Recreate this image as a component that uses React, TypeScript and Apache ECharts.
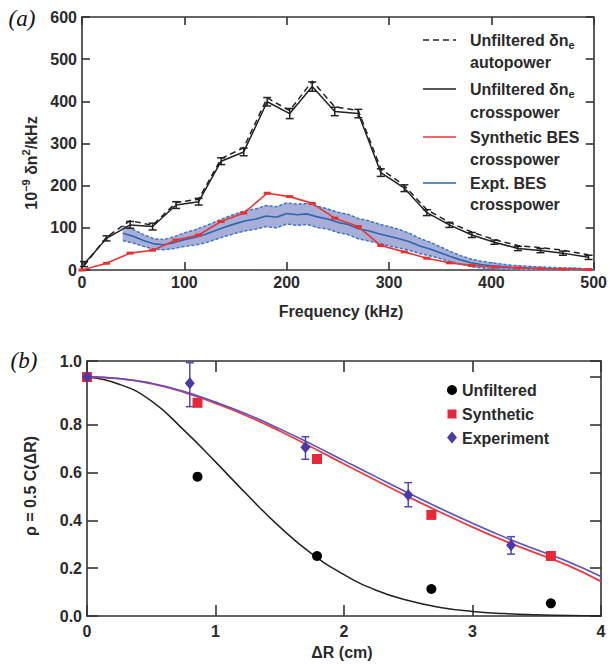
import React, { useEffect, useRef } from "react";
import * as echarts from "echarts";

// ---------- Panel (a) data ----------
const freq = [2, 24, 47, 69, 92, 114, 136, 158, 181, 203, 225, 247, 270, 292, 315, 337, 359, 381, 403, 426, 448, 470, 495];
const autopower = [10, 78, 117, 106, 160, 168, 264, 290, 408, 378, 448, 387, 378, 240, 200, 143, 113, 90, 72, 58, 53, 47, 36];
const crosspower = [14, 75, 107, 103, 154, 162, 258, 280, 399, 371, 435, 376, 371, 231, 194, 136, 107, 83, 66, 51, 46, 40, 30];
const crossErr = [6, 6, 8, 8, 8, 8, 8, 9, 10, 12, 11, 10, 10, 9, 8, 7, 6, 6, 5, 5, 5, 5, 5];
const synthFreq = [0, 24, 47, 69, 92, 114, 136, 158, 181, 203, 225, 247, 270, 292, 315, 337, 359, 381, 403, 426, 448, 470, 495];
const synthetic = [0, 16, 40, 47, 71, 83, 115, 135, 182, 174, 158, 123, 103, 58, 43, 28, 17, 11, 7, 5, 3, 2, 1];
const exptFreq = [40, 50, 60, 70, 80, 90, 100, 110, 120, 130, 140, 150, 160, 170, 180, 190, 200, 210, 220, 230, 240, 250, 260, 270, 280, 290, 300, 310, 320, 330, 340, 350, 360, 370, 380, 390, 400, 410, 420, 430, 440, 450, 460, 470, 480, 490, 500];
const exptMean = [87, 80, 70, 62, 60, 65, 72, 77, 84, 93, 102, 110, 117, 121, 128, 125, 134, 131, 133, 126, 121, 113, 108, 98, 93, 86, 80, 74, 67, 57, 50, 41, 32, 24, 17, 13, 10, 8, 6, 5, 4, 3, 3, 2, 2, 1, 1];
const exptHalf = [17, 16, 14, 12, 12, 14, 16, 18, 20, 21, 22, 23, 24, 24, 25, 25, 25, 25, 25, 25, 24, 24, 24, 24, 24, 23, 23, 22, 20, 18, 16, 14, 12, 10, 9, 8, 7, 6, 5, 5, 4, 4, 3, 3, 3, 2, 2];

// ---------- Panel (b) data ----------
const dR = [0, 0.25, 0.5, 0.75, 1.0, 1.25, 1.5, 1.75, 2.0, 2.25, 2.5, 2.75, 3.0, 3.25, 3.5, 3.75, 4.0];
const unfilteredFit = [1.0, 0.97, 0.9, 0.78, 0.645, 0.505, 0.373, 0.26, 0.173, 0.108, 0.065, 0.036, 0.019, 0.01, 0.005, 0.002, 0.001];
const experimentFit = [1.0, 0.994, 0.974, 0.94, 0.895, 0.843, 0.783, 0.718, 0.65, 0.582, 0.515, 0.45, 0.388, 0.33, 0.277, 0.226, 0.165];
const syntheticFit = [1.0, 0.993, 0.972, 0.937, 0.89, 0.836, 0.774, 0.706, 0.636, 0.567, 0.499, 0.434, 0.372, 0.314, 0.262, 0.21, 0.145];
const unfX = [0, 0.86, 1.79, 2.68, 3.61];
const unfY = [1.0, 0.583, 0.251, 0.113, 0.053];
const synX = [0, 0.86, 1.79, 2.68, 3.61];
const synY = [1.0, 0.892, 0.657, 0.423, 0.251];
const expX = [0, 0.8, 1.7, 2.5, 3.3];
const expY = [1.0, 0.974, 0.706, 0.506, 0.296];
const expLo = [1.0, 0.876, 0.656, 0.457, 0.259];
const expHi = [1.0, 1.06, 0.75, 0.558, 0.332];
// (b) y axis: the frame top sits a little above 1.0; the reference prints "1.0" at the frame top
const rhoTop = 1.067;
const rhoTopLabel = "1.0";

const FONT = '"Liberation Sans", Arial, Helvetica, sans-serif';
const AX = "#333333";

function makeAxis(grid: number, pos: string, min: number, max: number, interval: number, labels: boolean, tickLen: number, margin: number, formatter?: any) {
  return {
    type: "value", gridIndex: grid, position: pos, min, max, interval,
    axisLine: { show: true, onZero: false, lineStyle: { color: AX, width: 1.6 } },
    axisTick: { show: true, inside: true, length: tickLen, lineStyle: { color: AX, width: 1.6 } },
    axisLabel: { show: labels, color: "#2a2a2a", fontFamily: FONT, fontWeight: "bold", fontSize: 16, margin, formatter },
    splitLine: { show: false },
  };
}

function errorBars(color: string, halfCap: number, width: number) {
  return (params: any, api: any) => {
    const x = api.value(0);
    const lo = api.coord([x, api.value(1)]);
    const hi = api.coord([x, api.value(2)]);
    const style = { stroke: color, lineWidth: width };
    return {
      type: "group",
      children: [
        { type: "line", shape: { x1: lo[0], y1: lo[1], x2: hi[0], y2: hi[1] }, style },
        { type: "line", shape: { x1: lo[0] - halfCap, y1: lo[1], x2: lo[0] + halfCap, y2: lo[1] }, style },
        { type: "line", shape: { x1: hi[0] - halfCap, y1: hi[1], x2: hi[0] + halfCap, y2: hi[1] }, style },
      ],
    };
  };
}

function bandSegment(params: any, api: any) {
  const a = api.coord([api.value(0), api.value(1)]);
  const b = api.coord([api.value(3), api.value(4)]);
  const c = api.coord([api.value(3), api.value(5)]);
  const d = api.coord([api.value(0), api.value(2)]);
  return {
    type: "polygon",
    shape: { points: [a, b, c, d] },
    style: { fill: "#a7aed8", stroke: "#a7aed8", lineWidth: 0.6 },
  };
}

export default function App() {
  const ref = useRef<HTMLDivElement>(null);
  useEffect(() => {
    document.body.style.margin = "0";
    const chart = echarts.init(ref.current!, undefined, { renderer: "svg" });

    const pair = (xs: number[], ys: number[]) => xs.map((x, i) => [x, ys[i]]);
    const bandLower = exptFreq.map((f, i) => [f, exptMean[i] - exptHalf[i]]);
    const bandUpper = exptFreq.map((f, i) => [f, exptMean[i] + exptHalf[i]]);
    const bandSegs = exptFreq.slice(0, -1).map((f, i) => [
      f, exptMean[i] - exptHalf[i], exptMean[i] + exptHalf[i],
      exptFreq[i + 1], exptMean[i + 1] - exptHalf[i + 1], exptMean[i + 1] + exptHalf[i + 1],
    ]);

    const legendText = (x: number, y: number, text: string) => ({
      type: "text", x, y, z: 100,
      style: {
        text, fill: "#2a2a2a", font: `bold 16px ${FONT}`, align: "left", verticalAlign: "middle",
        rich: {
          n: { fontFamily: FONT, fontWeight: "bold", fontSize: 16, lineHeight: 20, fill: "#2a2a2a" },
          sub: { fontFamily: FONT, fontWeight: "bold", fontSize: 11, lineHeight: 11, verticalAlign: "bottom", fill: "#2a2a2a" },
        },
      },
    });

    // the tick at 1.0 is left blank; the frame-top (extent) tick carries "1.0" as in the reference
    const rhoFormatter = (v: number) => (Number(v) > 1.03 ? rhoTopLabel : Number(v) > 0.99 ? "" : Number(v).toFixed(1));

    const option: any = {
      animation: false,
      backgroundColor: "#ffffff",
      grid: [
        { left: 82, top: 17, width: 516, height: 253 },
        { left: 87, top: 361, width: 514, height: 255 },
      ],
      xAxis: [
        makeAxis(0, "bottom", 0, 500, 100, true, 8, 4),
        makeAxis(0, "top", 0, 500, 100, false, 8, 4),
        makeAxis(1, "bottom", 0, 4, 1, true, 11, 7),
        makeAxis(1, "top", 0, 4, 1, false, 11, 7),
      ],
      yAxis: [
        makeAxis(0, "left", 0, 600, 100, true, 8, 5),
        makeAxis(0, "right", 0, 600, 100, false, 8, 5),
        makeAxis(1, "left", 0, rhoTop, 0.2, true, 11, 5, rhoFormatter),
        makeAxis(1, "right", 0, rhoTop, 0.2, false, 11, 5),
      ],
      series: [
        // ---- panel (a)
        {
          type: "custom", name: "band", xAxisIndex: 0, yAxisIndex: 0, data: bandSegs,
          encode: { x: [0, 3], y: [1, 2, 4, 5] }, renderItem: bandSegment, silent: true, z: 1,
        },
        { type: "line", name: "bandLo", xAxisIndex: 0, yAxisIndex: 0, data: bandLower, symbol: "none", lineStyle: { color: "#3a78c8", width: 1.5, type: [3, 2] }, z: 2 },
        { type: "line", name: "bandHi", xAxisIndex: 0, yAxisIndex: 0, data: bandUpper, symbol: "none", lineStyle: { color: "#3a78c8", width: 1.5, type: [3, 2] }, z: 2 },
        { type: "line", name: "Expt. BES crosspower", xAxisIndex: 0, yAxisIndex: 0, data: pair(exptFreq, exptMean), symbol: "none", lineStyle: { color: "#2c66b0", width: 1.6 }, z: 3 },
        { type: "line", name: "Synthetic BES crosspower", xAxisIndex: 0, yAxisIndex: 0, data: pair(synthFreq, synthetic), symbol: "rect", symbolSize: [7, 3], itemStyle: { color: "#e8302f" }, lineStyle: { color: "#ee3333", width: 1.6 }, z: 4 },
        { type: "line", name: "Unfiltered autopower", xAxisIndex: 0, yAxisIndex: 0, data: pair(freq, autopower), symbol: "none", lineStyle: { color: "#222", width: 1.5, type: [6, 4] }, z: 5 },
        { type: "line", name: "Unfiltered crosspower", xAxisIndex: 0, yAxisIndex: 0, data: pair(freq, crosspower), symbol: "none", lineStyle: { color: "#222", width: 1.5 }, z: 5 },
        {
          type: "custom", name: "crossErr", xAxisIndex: 0, yAxisIndex: 0,
          data: freq.map((f, i) => [f, crosspower[i] - crossErr[i], crosspower[i] + crossErr[i]]),
          encode: { x: 0, y: [1, 2] }, renderItem: errorBars("#222", 4, 1.5), z: 6,
        },
        // ---- panel (b)
        { type: "line", name: "unfFit", xAxisIndex: 2, yAxisIndex: 2, data: pair(dR, unfilteredFit), smooth: true, symbol: "none", lineStyle: { color: "#222", width: 1.5 } },
        { type: "line", name: "synFit", xAxisIndex: 2, yAxisIndex: 2, data: pair(dR, syntheticFit), smooth: true, symbol: "none", lineStyle: { color: "#f03a3f", width: 1.8 } },
        { type: "line", name: "expFit", xAxisIndex: 2, yAxisIndex: 2, data: pair(dR, experimentFit), smooth: true, symbol: "none", lineStyle: { color: "#5a4fc4", width: 1.6 } },
        {
          type: "custom", name: "expErr", xAxisIndex: 2, yAxisIndex: 2,
          data: expX.map((x, i) => [x, expLo[i], expHi[i]]).slice(1),
          encode: { x: 0, y: [1, 2] }, renderItem: errorBars("#5548b0", 4, 1.5), z: 4,
        },
        { type: "scatter", name: "Unfiltered", xAxisIndex: 2, yAxisIndex: 2, data: pair(unfX, unfY), symbol: "circle", symbolSize: 10, itemStyle: { color: "#000", opacity: 1 }, z: 5 },
        { type: "scatter", name: "Synthetic", xAxisIndex: 2, yAxisIndex: 2, data: pair(synX, synY), symbol: "rect", symbolSize: 10, itemStyle: { color: "#e8283a", opacity: 1 }, z: 6 },
        { type: "scatter", name: "Experiment", xAxisIndex: 2, yAxisIndex: 2, data: pair(expX, expY), symbol: "diamond", symbolSize: [10, 12], itemStyle: { color: "#4a3aa8", opacity: 1 }, z: 7 },
      ],
      graphic: [
        { type: "text", x: 22, y: 18, style: { text: "(a)", font: 'italic 23px "Liberation Serif", "DejaVu Serif", serif', fill: "#111", align: "center", verticalAlign: "middle" } },
        { type: "text", x: 24, y: 360, style: { text: "(b)", font: 'italic 23px "Liberation Serif", "DejaVu Serif", serif', fill: "#111", align: "center", verticalAlign: "middle" } },
        { type: "text", x: 341, y: 311, style: { text: "Frequency (kHz)", font: `bold 16px ${FONT}`, fill: "#2a2a2a", align: "center", verticalAlign: "middle" } },
        {
          type: "text", x: 31, y: 163, rotation: Math.PI / 2,
          style: {
            text: "{n|10}{sup|−9}{n| δn}{sup|2}{n|/kHz}", align: "center", verticalAlign: "middle",
            rich: {
              n: { fontFamily: FONT, fontWeight: "bold", fontSize: 16, lineHeight: 22, fill: "#2a2a2a" },
              sup: { fontFamily: FONT, fontWeight: "bold", fontSize: 11, lineHeight: 11, verticalAlign: "top", fill: "#2a2a2a" },
            },
          },
        },
        { type: "text", x: 342, y: 652, style: { text: "ΔR (cm)", font: `bold 16px ${FONT}`, fill: "#2a2a2a", align: "center", verticalAlign: "middle" } },
        { type: "text", x: 30, y: 486, rotation: Math.PI / 2, style: { text: "ρ = 0.5 C(ΔR)", font: `bold 16px ${FONT}`, fill: "#2a2a2a", align: "center", verticalAlign: "middle" } },
        // legend (a)
        { type: "line", z: 100, shape: { x1: 423, y1: 40, x2: 456, y2: 40 }, style: { stroke: "#222", lineWidth: 1.5, lineDash: [6, 4] } },
        legendText(470, 40, "{n|Unfiltered δn}{sub|e}"),
        legendText(470, 62, "{n|autopower}"),
        { type: "line", z: 100, shape: { x1: 423, y1: 89, x2: 456, y2: 89 }, style: { stroke: "#222", lineWidth: 1.5 } },
        legendText(470, 89, "{n|Unfiltered δn}{sub|e}"),
        legendText(470, 112, "{n|crosspower}"),
        { type: "line", z: 100, shape: { x1: 423, y1: 137, x2: 456, y2: 137 }, style: { stroke: "#ee3333", lineWidth: 1.6 } },
        legendText(470, 137, "{n|Synthetic BES}"),
        legendText(470, 159, "{n|crosspower}"),
        { type: "line", z: 100, shape: { x1: 423, y1: 183, x2: 456, y2: 183 }, style: { stroke: "#2c66b0", lineWidth: 1.6 } },
        legendText(470, 183, "{n|Expt. BES}"),
        legendText(470, 204, "{n|crosspower}"),
        // legend (b)
        { type: "circle", z: 100, shape: { cx: 452, cy: 390, r: 5 }, style: { fill: "#000" } },
        { type: "rect", z: 100, shape: { x: 447.5, y: 409.5, width: 9, height: 9 }, style: { fill: "#e8283a" } },
        { type: "polygon", z: 100, shape: { points: [[452, 431.5], [457, 437.5], [452, 443.5], [447, 437.5]] }, style: { fill: "#4a3aa8" } },
        legendText(462, 390, "{n|Unfiltered}"),
        legendText(462, 414, "{n|Synthetic}"),
        legendText(462, 438, "{n|Experiment}"),
      ],
    };
    chart.setOption(option);
    return () => chart.dispose();
  }, []);
  return <div ref={ref} style={{ width: 610, height: 664 }} />;
}
